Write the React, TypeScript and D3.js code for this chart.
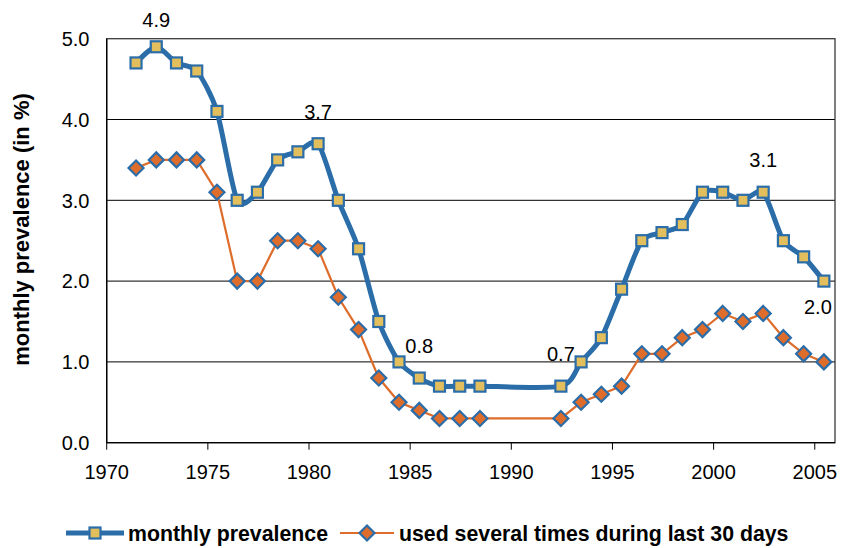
import React from "react";
import * as d3 from "d3";

const years = [1971, 1972, 1973, 1974, 1975, 1976, 1977, 1978, 1979, 1980, 1981, 1982, 1983, 1984, 1985, 1986, 1987, 1988, 1992, 1993, 1994, 1995, 1996, 1997, 1998, 1999, 2000, 2001, 2002, 2003, 2004, 2005];
const monthly = [4.7, 4.9, 4.7, 4.6, 4.1, 3.0, 3.1, 3.5, 3.6, 3.7, 3.0, 2.4, 1.5, 1.0, 0.8, 0.7, 0.7, 0.7, 0.7, 1.0, 1.3, 1.9, 2.5, 2.6, 2.7, 3.1, 3.1, 3.0, 3.1, 2.5, 2.3, 2.0];
const several = [3.4, 3.5, 3.5, 3.5, 3.1, 2.0, 2.0, 2.5, 2.5, 2.4, 1.8, 1.4, 0.8, 0.5, 0.4, 0.3, 0.3, 0.3, 0.3, 0.5, 0.6, 0.7, 1.1, 1.1, 1.3, 1.4, 1.6, 1.5, 1.6, 1.3, 1.1, 1.0];
const xTicks = [1970, 1975, 1980, 1985, 1990, 1995, 2000, 2005];
const yTicks = [0, 1, 2, 3, 4, 5];
const labelYears = [1972, 1980, 1985, 1992, 2002, 2005];
const labelBelow = [2005];
const seriesNames = ["monthly prevalence", "used several times during last 30 days"];

const BLUE = "#2B6DA9";
const YELLOW = "#E2BF5C";
const ORANGE = "#DE6C2B";
const OFFSET = 0.45;

export default function App() {
  const left = 106.7, right = 835, top = 38.7, bottom = 442.7;
  const x = d3.scaleLinear().domain([1970, 2006]).range([left, right]);
  const y = d3.scaleLinear().domain([0, 5]).range([bottom, top]);

  const smooth = d3
    .line<[number, number]>()
    .x((d) => x(d[0] + OFFSET))
    .y((d) => y(d[1]))
    .curve(d3.curveCardinal.tension(0.25));
  const straight = d3
    .line<[number, number]>()
    .x((d) => x(d[0] + OFFSET))
    .y((d) => y(d[1]));

  const mData: [number, number][] = years.map((yr, i) => [yr, monthly[i]]);
  const sData: [number, number][] = years.map((yr, i) => [yr, several[i]]);

  const sq = 11;
  const dm = 7.5;
  const diamond = (cx: number, cy: number) =>
    `M${cx},${cy - dm}L${cx + dm},${cy}L${cx},${cy + dm}L${cx - dm},${cy}Z`;

  const font = "Liberation Sans, Arial, sans-serif";

  return (
    <svg width={850} height={548} style={{ position: "absolute", left: 0, top: 0, background: "#fff" }} fontFamily={font}>
      {yTicks.filter((t) => t > 0 && t < 5).map((t) => (
        <line key={t} x1={left} x2={right} y1={y(t)} y2={y(t)} stroke="#000" strokeWidth={1} />
      ))}
      <rect x={left} y={top} width={right - left} height={bottom - top} fill="none" stroke="#3a3a3a" strokeWidth={1.3} />
      <line x1={left} x2={left} y1={top} y2={bottom} stroke="#000" strokeWidth={1.3} />
      <line x1={left} x2={right} y1={bottom} y2={bottom} stroke="#000" strokeWidth={1.3} />
      {yTicks.map((t) => (
        <text key={t} x={89.5} y={y(t)} dy="0.36em" textAnchor="end" fontSize={20} fill="#000">
          {t.toFixed(1)}
        </text>
      ))}
      {xTicks.map((t) => (
        <g key={t}>
          <line x1={x(t)} x2={x(t)} y1={bottom} y2={bottom + 7} stroke="#000" strokeWidth={1} />
          <text x={x(t)} y={479} textAnchor="middle" fontSize={20} fill="#000">
            {t}
          </text>
        </g>
      ))}
      <text transform={`translate(29,229.5) rotate(-90)`} textAnchor="middle" fontSize={22} fontWeight="bold" fill="#000">
        monthly prevalence (in %)
      </text>
      <path d={straight(sData) || ""} fill="none" stroke={ORANGE} strokeWidth={2.2} />
      <path d={smooth(mData) || ""} fill="none" stroke={BLUE} strokeWidth={5} />
      {sData.map((d, i) => (
        <path key={"s" + i} d={diamond(x(d[0] + OFFSET), y(d[1]))} fill={ORANGE} stroke={BLUE} strokeWidth={2.2} />
      ))}
      {mData.map((d, i) => (
        <rect key={"m" + i} x={x(d[0] + OFFSET) - sq / 2} y={y(d[1]) - sq / 2} width={sq} height={sq} fill={YELLOW} stroke={BLUE} strokeWidth={2.2} />
      ))}
      {labelYears.map((yr) => {
        const i = years.indexOf(yr);
        const v = monthly[i];
        const below = labelBelow.includes(yr);
        let cx = x(yr + OFFSET);
        if (below) cx -= 6;
        const cy = below ? y(v) + 33 : yr === 1972 ? y(v) - 20 : y(v) - 25;
        return (
          <text key={yr} x={cx} y={cy} textAnchor="middle" fontSize={20} fill="#000">
            {v.toFixed(1)}
          </text>
        );
      })}
      <g>
        <line x1={66} x2={124} y1={533} y2={533} stroke={BLUE} strokeWidth={5} />
        <rect x={95 - sq / 2} y={533 - sq / 2} width={sq} height={sq} fill={YELLOW} stroke={BLUE} strokeWidth={2.2} />
        <text x={128} y={540.5} fontSize={21.3} fontWeight="bold" fill="#000">
          {seriesNames[0]}
        </text>
        <line x1={340} x2={394} y1={533} y2={533} stroke={ORANGE} strokeWidth={2.2} />
        <path d={diamond(367, 533)} fill={ORANGE} stroke={BLUE} strokeWidth={2.2} />
        <text x={399} y={540.5} fontSize={21.3} fontWeight="bold" fill="#000">
          {seriesNames[1]}
        </text>
      </g>
    </svg>
  );
}
